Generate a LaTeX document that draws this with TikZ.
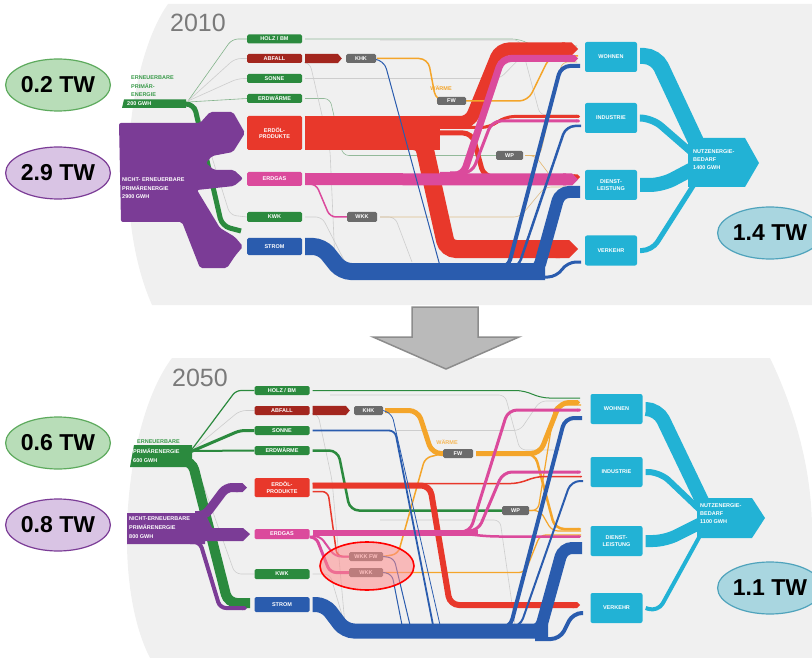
\documentclass[tikz,border=0pt]{standalone}
\usepackage{fontspec}
\setmainfont{Liberation Sans}
\usetikzlibrary{calc,arrows.meta,shapes.geometric}
\definecolor{cgreen}{HTML}{2B8A3E}
\definecolor{cgreenT}{HTML}{3A9A4A}
\definecolor{cdred}{HTML}{A3261E}
\definecolor{cred}{HTML}{E8382B}
\definecolor{cpink}{HTML}{DB4A9C}
\definecolor{cblue}{HTML}{2A5CAE}
\definecolor{ccyan}{HTML}{22B2D5}
\definecolor{cgray}{HTML}{6B6B6B}
\definecolor{corange}{HTML}{F4A52A}
\definecolor{cpurple}{HTML}{7B3C96}
\definecolor{cbg}{HTML}{F0F0F0}
\definecolor{cthin}{HTML}{CDCDCD}
\definecolor{cyear}{HTML}{7A7A7A}
\definecolor{egf}{HTML}{B8DDB8}
\definecolor{egd}{HTML}{5DAA5D}
\definecolor{epf}{HTML}{D9C4E4}
\definecolor{epd}{HTML}{7B3C96}
\definecolor{ebf}{HTML}{A9D6E0}
\definecolor{ebd}{HTML}{4FA3BC}
\pgfdeclarelayer{back}
\pgfdeclarelayer{flows}
\pgfsetlayers{back,flows,main}
\begin{document}
\begin{tikzpicture}[x=1pt,y=-1pt,
  lbl/.style={text=white,font=\bfseries\fontsize{5.5}{6.5}\selectfont,inner sep=0pt,align=center,rounded corners=1.5pt},
  gbox/.style={lbl,fill=cgreen,minimum width=55pt,minimum height=9pt},
  kbox/.style={lbl,fill=cgray,minimum height=9pt},
  cbox/.style={lbl,fill=ccyan,minimum width=52pt,minimum height=30pt,rounded corners=2pt},
  band/.style={rounded corners=9pt},
  tband/.style={band,-{Triangle Cap}},
  thinl/.style={draw=cthin,line width=0.6pt,rounded corners=6pt},
  tw/.style={ellipse,minimum width=97pt,minimum height=52pt,line width=1.2pt,inner sep=0pt,font=\bfseries\fontsize{23}{23}\selectfont},
  side/.style={font=\bfseries\fontsize{5.5}{8.5}\selectfont,inner sep=0pt,align=left,anchor=west},
  yr/.style={font=\fontsize{25}{25}\selectfont,text=cyear,inner sep=0pt}
]
\useasboundingbox (0,0) rectangle (812,658);
\begin{pgfonlayer}{back}
\fill[cbg] (168,4) .. controls (128,60) and (110,210) .. (152,305) -- (812,305) -- (812,4) -- cycle;
\fill[cbg] (172,358) .. controls (125,420) and (110,580) .. (150,658) -- (812,658) -- (812,530) .. controls (812,470) and (795,410) .. (770,358) -- cycle;
\end{pgfonlayer}

% ===================== 2010 =====================
\node[yr] (y2010) at (198,23) {2010};
\node[gbox] (holzA) at (274.5,39) {HOLZ / BM};
\node[lbl,fill=cdred,minimum width=55pt,minimum height=9pt] (abfallA) at (274.5,58.5) {ABFALL};
\node[kbox,minimum width=30pt] (khkA) at (361,58.5) {KHK};
\node[gbox] (sonneA) at (274.5,78.5) {SONNE};
\node[gbox] (erdwA) at (274.5,98.5) {ERDWÄRME};
\node[lbl,fill=cred,minimum width=55pt,minimum height=34pt] (erdolA) at (274.5,133) {ERDÖL-\\PRODUKTE};
\node[lbl,fill=cpink,minimum width=55pt,minimum height=14pt] (erdgasA) at (274.5,179) {ERDGAS};
\node[gbox,minimum height=10pt] (kwkA) at (274.5,217) {KWK};
\node[lbl,fill=cblue,minimum width=55pt,minimum height=17pt] (stromA) at (274.5,246.5) {STROM};
\node[kbox,minimum width=30pt,minimum height=10pt] (wkkA) at (362,217) {WKK};
\node[kbox,minimum width=29pt,minimum height=8pt] (fwA) at (451.5,101) {FW};
\node[kbox,minimum width=27pt] (wpA) at (509.5,155.5) {WP};
\node[font=\bfseries\fontsize{5.5}{6}\selectfont,text=corange,inner sep=0pt] (waermeA) at (441,88) {WÄRME};
\node[cbox] (wohnenA) at (611,57) {WOHNEN};
\node[cbox] (industrieA) at (611,118) {INDUSTRIE};
\node[cbox] (dienstA) at (611,185) {DIENST-\\LEISTUNG};
\node[cbox] (verkehrA) at (611,250.5) {VERKEHR};
\fill[ccyan] (688,138) -- (745,138) -- (759,163) -- (745,187) -- (688,187) -- cycle;
\node[lbl,align=left,anchor=west,font=\bfseries\fontsize{5.5}{8}\selectfont] (nutzA) at (693,160) {NUTZENERGIE-\\BEDARF\\1400 GWH};

\node[side,text=cgreenT] (ernA) at (131,86.5) {ERNEUERBARE\\PRIMÄR-\\ENERGIE};
\fill[cgreen] (124,99.5) -- (186,99.5) -- (186,108) -- (122,108) -- cycle;
\node[side,text=white] (ern200A) at (127,104) {200 GWH};
\fill[cpurple,rounded corners=2pt] (119,123) -- (200,123) -- (210,112) -- (233,112) -- (245,133) -- (233,152) -- (212,156) -- (206,163) -- (214,170) -- (234,170) -- (243,178.5) -- (234,186) -- (197,190) -- (220,228) -- (235,237) -- (243,246.5) -- (235,256) -- (227,268) -- (200,268) -- (182,222) -- (121,222) -- cycle;
\node[side,text=white] (nernA) at (122,188.5) {NICHT- ERNEUERBARE\\PRIMÄRENERGIE\\2900 GWH};

\node[tw,fill=egf,draw=egd] (tw1) at (58,85) {0.2 TW};
\node[tw,fill=epf,draw=epd] (tw2) at (58,173) {2.9 TW};
\node[tw,fill=ebf,draw=ebd] (tw3) at (770,233) {1.4 TW};

\begin{pgfonlayer}{flows}
% left fan
\draw[thinl,draw=cgreenT!50!cthin] (188,101) -- (232,39) -- (holzA.west);
\draw[thinl] (188,101) -- (235,58.5) -- (abfallA.west);
\draw[thinl] (188,101) -- (238,78.5) -- (sonneA.west);
\draw[thinl,draw=cgreenT!50!cthin] (188,102) -- (erdwA.west);
\draw[thinl] (196,106) -- (230,215) -- (kwkA.west);
\draw[cgreen,line width=5pt,rounded corners=8pt] (ern200A.east) -- (194,104) -- (222,226) -- (241,231);
% thin lines
\draw[thinl,draw=cgreenT!40!cthin] ($(holzA.east)+(3,0)$) -- (518,39) -- (535,46) -- (577,46);
\draw[thinl] ($(sonneA.east)+(3,0)$) -- (500,78.5) -- (528,50) -- (577,50);
\draw[thinl,draw=cgreenT!40!cthin] ($(erdwA.east)+(3,0)$) -- (330,98.5) -- (343,155.5) -- (wpA.west);
\draw[thinl] ($(kwkA.east)+(3,0)$) -- (322,217) -- (345,262);
\draw[thinl] ($(wkkA.east)+(3,0)$) -- (395,217) -- (412,262);
\draw[thinl,draw=corange!40!cthin] ($(wkkA.east)+(3,0)$) -- (520,217) -- (545,187) -- (577,187);
\draw[thinl] ($(abfallA.east)+(3,4)$) -- (310,63) -- (330,150) -- (335,262);
\draw[thinl,draw=corange!60!cthin] ($(wpA.east)+(2,0)$) -- (535,155.5) -- (552,178) -- (577,178);
\draw[thinl,draw=corange!60!cthin] ($(wpA.east)+(2,0)$) -- (540,155.5) -- (562,62) -- (577,62);
\draw[thinl] (380,40) -- (520,40) -- (540,115) -- (577,115);
% red
\fill[cred] ($(erdolA.north east)+(3,0)$) rectangle (440,150);
\draw[tband,cred,line width=13pt] (430,122.5) -- (470,122.5) -- (500,49) -- (578,49);
\draw[tband,cred,line width=18pt] (405,141) -- (423,141) -- (447,249) -- (578,249);
\draw[tband,cred,line width=3pt] (440,127.5) -- (490,127.5) -- (505,116.5) -- (580,116.5);
\draw[tband,cred,line width=5pt] (440,133) -- (472,133) -- (484,177) -- (580,177);
% orange
\draw[band,corange,line width=1.5pt] ($(khkA.east)+(1,0)$) -- (428,58.5) -- (436,101) -- (fwA.west);
\draw[band,corange,line width=1.5pt] (fwA.east) -- (528,101) -- (550,56) -- (578,56);
% pink
\draw[tband,cpink,line width=12pt] ($(erdgasA.east)+(3,0)$) -- (500,179.5) -- (578,179.5);
\draw[tband,cpink,line width=7pt] (440,175.5) -- (463,175.5) -- (502,58.5) -- (578,58.5);
\draw[tband,cpink,line width=3pt] (450,173) -- (472,173) -- (492,121) -- (580,121);
\draw[band,cpink,line width=1.5pt,rounded corners=6pt] ($(erdgasA.east)+(3,5)$) -- (316,184) -- (330,217) -- (wkkA.west);
% blue
\draw[band,cblue,line width=1pt] ($(khkA.east)+(1,1)$) -- (384,60) -- (440,266);
\draw[band,cblue,line width=17pt] ($(stromA.east)+(3,0)$) -- (322,246.5) -- (342,271.5) -- (545,271.5);
\draw[band,cblue,line width=4pt] (490,268) -- (508,268) -- (561,66) -- (580,66);
\draw[band,cblue,line width=2.5pt] (500,268) -- (518,268) -- (566,126) -- (581,126);
\draw[band,cblue,line width=12pt] (520,271.5) -- (538,271.5) -- (560,192) -- (580,192);
\draw[band,cblue,line width=3pt] (540,277) -- (557,277) -- (567,262) -- (581,262);
% cyan
\draw[band,ccyan,line width=16pt,rounded corners=12pt] ($(wohnenA.east)+(3,-1)$) -- (656,56) -- (700,150);
\draw[band,ccyan,line width=7pt,rounded corners=12pt] ($(industrieA.east)+(3,0)$) -- (652,118) -- (698,158);
\draw[band,ccyan,line width=14pt,rounded corners=12pt] ($(dienstA.east)+(3,0)$) -- (662,185) -- (700,165);
\draw[band,ccyan,line width=5pt,rounded corners=10pt] ($(verkehrA.east)+(3,0)$) -- (652,250.5) -- (700,175);
\end{pgfonlayer}
\fill[cdred] ($(abfallA.north east)+(3,0)$) -- ($(khkA.north west)+(-8,0)$) -- ($(khkA.west)+(-4,0)$) -- ($(khkA.south west)+(-8,0)$) -- ($(abfallA.south east)+(3,0)$) -- cycle;

% ===================== arrow =====================
\draw[draw=black!45,fill=black!27,line width=1.5pt,line join=miter] (412,307) -- (478,307) -- (478,337) -- (519,337) -- (446,369) -- (373,337) -- (412,337) -- cycle;

% ===================== 2050 =====================
\node[yr] (y2050) at (200,378) {2050};
\node[gbox] (holzB) at (282,390.5) {HOLZ / BM};
\node[lbl,fill=cdred,minimum width=55pt,minimum height=9pt] (abfallB) at (282,410.5) {ABFALL};
\node[kbox,minimum width=29pt] (khkB) at (368.5,410.5) {KHK};
\node[gbox] (sonneB) at (282,430.5) {SONNE};
\node[gbox] (erdwB) at (282,450.5) {ERDWÄRME};
\node[lbl,fill=cred,minimum width=55pt,minimum height=19pt] (erdolB) at (282,487.5) {ERDÖL-\\PRODUKTE};
\node[lbl,fill=cpink,minimum width=55pt,minimum height=10pt] (erdgasB) at (282,534) {ERDGAS};
\node[gbox,minimum height=10pt] (kwkB) at (282,574) {KWK};
\node[lbl,fill=cblue,minimum width=55pt,minimum height=15pt] (stromB) at (282,604.5) {STROM};
\node[kbox,minimum width=34pt] (wkkfwB) at (366,556.5) {WKK FW};
\node[kbox,minimum width=34pt] (wkkB) at (366,572.5) {WKK};
\node[kbox,minimum width=30pt] (fwB) at (458,453.5) {FW};
\node[kbox,minimum width=27pt] (wpB) at (515.5,510.5) {WP};
\node[font=\bfseries\fontsize{5.5}{6}\selectfont,text=corange!80!white,inner sep=0pt] (waermeB) at (447,442) {WÄRME};
\node[cbox] (wohnenB) at (616.5,409) {WOHNEN};
\node[cbox] (industrieB) at (616.5,472) {INDUSTRIE};
\node[cbox] (dienstB) at (616.5,541) {DIENST-\\LEISTUNG};
\node[cbox] (verkehrB) at (616.5,608) {VERKEHR};
\fill[ccyan] (697,498) -- (752,498) -- (765,518) -- (752,538) -- (697,538) -- cycle;
\node[lbl,align=left,anchor=west,font=\bfseries\fontsize{5.5}{8}\selectfont] (nutzB) at (700,514) {NUTZENERGIE-\\BEDARF\\1100 GWH};

\node[side,text=cgreenT] (ernB) at (137,442) {ERNEUERBARE};
\fill[cgreen] (134,445) -- (192,445) -- (192,467) -- (130,467) -- cycle;
\node[side,text=white,font=\bfseries\fontsize{5.5}{8.5}\selectfont] (ern600B) at (133,455.5) {PRIMÄRENERGIE\\600 GWH};
\fill[cpurple] (127,513) -- (205,513) -- (212,528) -- (243,528) -- (250,534) -- (243,541) -- (205,541) -- (205,544) -- (127,544) -- cycle;
\node[side,text=white,font=\bfseries\fontsize{5.5}{9}\selectfont] (nernB) at (129,528) {NICHT-ERNEUERBARE\\PRIMÄRENERGIE\\800 GWH};

\node[tw,fill=egf,draw=egd] (tw4) at (58,443) {0.6 TW};
\node[tw,fill=epf,draw=epd] (tw5) at (58,525) {0.8 TW};
\node[tw,fill=ebf,draw=ebd] (tw6) at (770,588) {1.1 TW};

\begin{pgfonlayer}{flows}
% left
\draw[band,cgreen,line width=1.2pt,rounded corners=5pt] (190,452) -- (236,390.5) -- (holzB.west);
\draw[thinl] (190,452) -- (240,410.5) -- (abfallB.west);
\draw[band,cgreen,line width=3pt,rounded corners=5pt] (190,452) -- (240,430.5) -- (sonneB.west);
\draw[band,cgreen,line width=2pt] (190,451) -- (erdwB.west);
\draw[thinl] (195,462) -- (235,574) -- (kwkB.west);
\draw[band,cgreen,line width=10pt] (180,461) -- (192,461) -- (228,603) -- (250,603);
\draw[tband,cpurple,line width=9pt,rounded corners=6pt] (195,515.5) -- (205,515.5) -- (226,487.5) -- (247,487.5);
\draw[tband,cpurple,line width=4pt,rounded corners=6pt] (190,542) -- (200,542) -- (220,608) -- (247,608);
% thin
\draw[thinl] ($(abfallB.east)+(3,3)$) -- (318,414) -- (332,480) -- (345,625);
\draw[thinl] (395,430.5) -- (520,430.5) -- (540,401) -- (580,401);
\draw[thinl] (330,395) -- (505,395) -- (520,450) -- (560,450);
\draw[thinl] ($(kwkB.east)+(3,0)$) -- (330,574) -- (345,625);
\draw[thinl] (380,520) -- (500,520) -- (515,625);
% green
\draw[band,cgreen,line width=1pt] ($(holzB.east)+(3,0)$) -- (525,390.5) -- (540,398) -- (580,398);
\draw[band,cgreen,line width=2.5pt] ($(erdwB.east)+(3,0)$) -- (338,450.5) -- (350,510.5) -- (wpB.west);
% orange
\draw[band,corange,line width=5pt] ($(khkB.east)+(2,0)$) -- (418,410.5) -- (432,453.5) -- (fwB.west);
\draw[tband,corange,line width=5pt] ($(fwB.east)+(3,0)$) -- (540,453.5) -- (560,402.5) -- (580,402.5);
\draw[tband,corange,line width=2.5pt] (525,453.5) -- (535,453.5) -- (555,529) -- (581,529);
\draw[band,corange,line width=1.5pt,rounded corners=6pt] (wkkfwB.east) -- (398,554) -- (425,458) -- (fwB.west);
\draw[band,corange,line width=1.3pt,rounded corners=6pt] (wkkB.east) -- (525,572.5) -- (540,535) -- (581,535);
\draw[band,corange,line width=1.2pt,rounded corners=6pt] (wpB.east) -- (538,510.5) -- (555,405) -- (581,405);
\draw[band,corange,line width=1.2pt,rounded corners=6pt] (wpB.east) -- (540,510.5) -- (552,531) -- (581,531);
% red
\draw[tband,cred,line width=6pt] ($(erdolB.east)+(3,-2)$) -- (430,485.5) -- (450,605) -- (580,605);
\draw[tband,cred,line width=1.5pt] ($(erdolB.east)+(3,-4)$) -- (520,483.5) -- (535,476.5) -- (582,476.5);
\draw[band,cred,line width=1.5pt,rounded corners=6pt] ($(erdolB.east)+(3,4)$) -- (328,491.5) -- (337,556.5) -- (wkkfwB.west);
% pink
\draw[band,cpink,line width=6pt] ($(erdgasB.east)+(3,-1)$) -- (478,533);
\draw[tband,cpink,line width=2.5pt] (465,534) -- (490,536.5) -- (581,536.5);
\draw[tband,cpink,line width=3pt] (460,532) -- (470,532) -- (508,410) -- (581,410);
\draw[tband,cpink,line width=3pt] (465,531) -- (478,531) -- (503,472) -- (581,472);
\draw[band,cpink,line width=2pt,rounded corners=6pt] ($(erdgasB.east)+(3,2)$) -- (320,536) -- (335,556.5) -- (wkkfwB.west);
\draw[band,cpink,line width=3pt,rounded corners=6pt] ($(erdgasB.east)+(3,3)$) -- (316,537) -- (330,572.5) -- (wkkB.west);
% blue
\draw[band,cblue,line width=1.8pt,rounded corners=6pt] ($(sonneB.east)+(3,0)$) -- (395,430.5) -- (433,625);
\draw[band,cblue,line width=0.8pt,rounded corners=6pt] (khkB.east) -- (392,414) -- (440,625);
\draw[band,cblue,line width=1pt,rounded corners=6pt] (wkkfwB.east) -- (394,558) -- (410,625);
\draw[band,cblue,line width=1pt,rounded corners=6pt] (wkkB.east) -- (392,574) -- (402,625);
\draw[band,cblue,line width=15pt] ($(stromB.east)+(3,0)$) -- (325,604.5) -- (345,631) -- (548,631);
\draw[band,cblue,line width=4pt] (495,628) -- (510,628) -- (565,418) -- (582,418);
\draw[band,cblue,line width=2pt] (505,627) -- (520,627) -- (571,481) -- (583,481);
\draw[band,cblue,line width=12pt] (525,631) -- (540,631) -- (563,548) -- (582,548);
\draw[band,cblue,line width=4pt] (535,639) -- (560,639) -- (573,613) -- (583,613);
% cyan
\draw[band,ccyan,line width=14pt,rounded corners=12pt] ($(wohnenB.east)+(3,0)$) -- (658,409) -- (704,505);
\draw[band,ccyan,line width=6pt,rounded corners=12pt] ($(industrieB.east)+(3,0)$) -- (660,472) -- (702,512);
\draw[band,ccyan,line width=12pt,rounded corners=12pt] ($(dienstB.east)+(3,0)$) -- (665,541) -- (703,522);
\draw[band,ccyan,line width=4pt,rounded corners=10pt] ($(verkehrB.east)+(3,0)$) -- (658,612) -- (702,532);
\end{pgfonlayer}
\fill[cdred] ($(abfallB.north east)+(3,0)$) -- ($(khkB.north west)+(-8,0)$) -- ($(khkB.west)+(-4,0)$) -- ($(khkB.south west)+(-8,0)$) -- ($(abfallB.south east)+(3,0)$) -- cycle;
\node[ellipse,minimum width=94pt,minimum height=48pt,draw=red,line width=1.6pt,fill=red!45,fill opacity=0.55] (mark) at (367,566) {};
\end{tikzpicture}
\end{document}
